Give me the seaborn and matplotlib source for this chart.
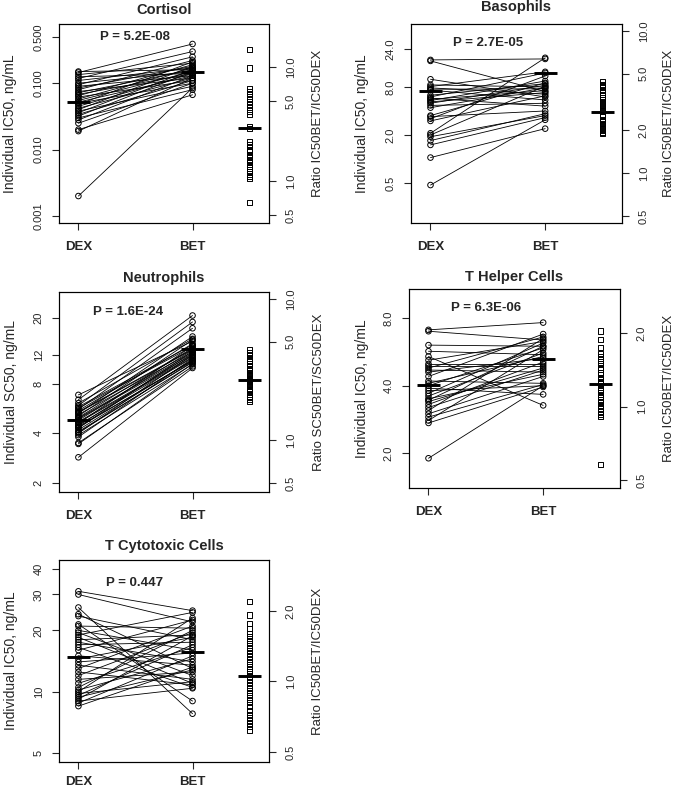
import matplotlib
matplotlib.use("Agg")
import matplotlib.pyplot as plt
import seaborn as sns
import pandas as pd
from matplotlib.ticker import FixedLocator, FixedFormatter, NullLocator

# ---------------- data ----------------
groups = ["DEX", "BET"]

cortisol_dex = [0.150, 0.145, 0.135, 0.125, 0.118, 0.110, 0.100, 0.095, 0.090, 0.085,
                0.080, 0.075, 0.072, 0.068, 0.065, 0.062, 0.058, 0.055, 0.052, 0.050,
                0.048, 0.045, 0.042, 0.040, 0.038, 0.036, 0.034, 0.032, 0.030, 0.028,
                0.025, 0.020, 0.019, 0.002]
cortisol_bet = [0.160, 0.390, 0.200, 0.140, 0.300, 0.170, 0.150, 0.250, 0.130, 0.180,
                0.220, 0.120, 0.160, 0.140, 0.190, 0.110, 0.170, 0.150, 0.130, 0.100,
                0.210, 0.140, 0.120, 0.180, 0.090, 0.160, 0.110, 0.150, 0.080, 0.130,
                0.100, 0.067, 0.120, 0.085]
cortisol_ratio = [14.2, 9.8, 6.5, 6.1, 5.7, 5.3, 5.0, 4.7, 4.4, 4.1, 3.8, 3.0, 2.9, 2.2,
                  2.1, 2.0, 1.9, 1.85, 1.8, 1.7, 1.65, 1.6, 1.5, 1.45, 1.4, 1.35, 1.3,
                  1.25, 1.2, 1.15, 1.1, 1.06, 0.65]
cortisol_means = [0.052, 0.15]
cortisol_ratio_mean = 2.9

baso_dex = [17.5, 17.0, 10.0, 8.5, 8.1, 7.8, 7.5, 7.3, 6.3, 6.0, 5.8, 5.6, 5.4, 5.2,
            5.0, 4.7, 4.4, 3.5, 3.4, 3.2, 3.0, 2.1, 2.0, 1.9, 1.7, 1.5, 1.04, 0.47]
baso_bet = [18.0, 7.0, 6.0, 8.0, 12.4, 6.5, 7.6, 5.5, 8.8, 12.0, 4.6, 7.2, 9.5, 6.8,
            8.4, 5.0, 7.8, 9.0, 4.0, 11.0, 6.2, 18.6, 8.2, 3.5, 3.7, 3.3, 2.4, 3.1]
baso_ratio = [4.4, 4.2, 4.1, 4.0, 3.8, 3.6, 3.4, 3.3, 3.2, 3.1, 3.0, 2.9, 2.8, 2.75,
              2.7, 2.6, 2.55, 2.5, 2.4, 2.35, 2.3, 2.25, 2.2, 2.1, 2.05, 2.0, 1.95, 1.9]
baso_means = [7.1, 11.9]
baso_ratio_mean = 2.7

neut_dex = [6.85, 6.4, 6.1, 5.9, 5.8, 5.7, 5.6, 5.5, 5.4, 5.35, 5.3, 5.2, 5.1, 5.0,
            4.95, 4.9, 4.8, 4.7, 4.65, 4.6, 4.5, 4.45, 4.4, 4.35, 4.3, 4.2, 4.1, 4.05,
            4.0, 3.9, 3.8, 3.5, 3.45, 2.86]
neut_bet = [14.5, 20.8, 15.0, 19.0, 13.8, 13.5, 17.4, 14.0, 13.0, 12.9, 15.5, 12.5,
            14.8, 13.2, 12.3, 12.0, 12.8, 11.8, 11.6, 13.6, 11.5, 12.2, 11.0, 11.1,
            12.6, 11.2, 10.8, 10.9, 12.0, 10.5, 11.4, 10.2, 10.6, 9.98]
neut_ratio = [4.4, 4.2, 4.0, 3.8, 3.7, 3.6, 3.5, 3.4, 3.3, 3.2, 3.15, 3.1, 3.0, 2.95,
              2.9, 2.85, 2.8, 2.75, 2.7, 2.65, 2.6, 2.55, 2.5, 2.45, 2.4, 2.35, 2.3,
              2.25, 2.2, 2.1, 2.05, 2.0, 1.95, 1.89]
neut_means = [4.8, 13.1]
neut_ratio_mean = 2.69

th_dex = [7.1, 7.0, 6.07, 5.7, 5.4, 5.2, 5.0, 4.9, 4.8, 4.7, 4.6, 4.4, 4.2, 4.1, 4.0,
          3.9, 3.8, 3.7, 3.6, 3.5, 3.45, 3.4, 3.3, 3.2, 3.1, 3.0, 2.9, 2.8, 2.73, 1.9]
th_bet = [7.65, 6.4, 6.0, 5.5, 3.27, 6.3, 5.0, 4.9, 6.6, 4.6, 5.3, 6.8, 4.1, 5.4, 5.9,
          3.66, 4.0, 6.2, 5.6, 4.5, 6.0, 4.8, 5.1, 4.7, 6.5, 4.4, 4.05, 5.8, 3.95, 4.0]
th_ratio = [2.04, 1.88, 1.75, 1.65, 1.6, 1.55, 1.5, 1.45, 1.42, 1.38, 1.35, 1.32, 1.3,
            1.27, 1.24, 1.22, 1.2, 1.17, 1.14, 1.12, 1.1, 1.07, 1.05, 1.04, 1.01, 0.98,
            0.95, 0.93, 0.91, 0.58]
th_means = [4.05, 5.25]
th_ratio_mean = 1.24

tc_dex = [31.1, 30.0, 25.9, 24.0, 23.5, 21.4, 21.0, 20.0, 19.5, 19.0, 18.5, 18.0, 17.5,
          17.0, 16.5, 16.0, 15.0, 14.5, 14.0, 13.5, 13.0, 12.5, 12.0, 11.5, 11.0, 10.5,
          10.2, 10.0, 9.8, 9.6, 9.4, 9.2, 9.0, 8.8, 8.5]
tc_bet = [25.0, 22.0, 7.8, 13.0, 18.0, 9.0, 20.5, 16.0, 12.0, 24.5, 11.0, 19.0, 14.0,
          17.5, 10.5, 22.5, 13.5, 18.5, 15.5, 11.5, 21.0, 10.8, 19.5, 12.5, 16.5, 20.0,
          14.5, 23.0, 11.2, 17.0, 12.8, 18.8, 10.4, 15.0, 13.2]
tc_ratio = [2.19, 1.92, 1.77, 1.68, 1.6, 1.55, 1.5, 1.45, 1.4, 1.36, 1.32, 1.28, 1.24,
            1.2, 1.16, 1.12, 1.08, 1.05, 1.02, 0.99, 0.96, 0.93, 0.9, 0.87, 0.84, 0.81,
            0.78, 0.75, 0.72, 0.7, 0.68, 0.66, 0.64, 0.62]
tc_means = [14.8, 15.7]
tc_ratio_mean = 1.05

panels = [
    dict(title="Cortisol", dex=cortisol_dex, bet=cortisol_bet, ratio=cortisol_ratio,
         means=cortisol_means, rmean=cortisol_ratio_mean, p="P = 5.2E-08",
         ylab="Individual IC50, ng/mL", rlab="Ratio IC50BET/IC50DEX",
         lticks=[0.001, 0.010, 0.100, 0.500], llabels=["0.001", "0.010", "0.100", "0.500"],
         rticks=[0.5, 1.0, 5.0, 10.0], rlabels=["0.5", "1.0", "5.0", "10.0"],
         ylim=(0.000785, 0.78), rlim=(0.428, 23.8), tpad=7, xpad=8,
         rect=[59, 24, 269, 223], pxy=(0.36, 0.935), lx=-0.20, rx=1.205),
    dict(title="Basophils", dex=baso_dex, bet=baso_bet, ratio=baso_ratio,
         means=baso_means, rmean=baso_ratio_mean, p="P = 2.7E-05",
         ylab="Individual IC50, ng/mL", rlab="Ratio IC50BET/IC50DEX",
         lticks=[0.5, 2.0, 8.0, 24.0], llabels=["0.5", "2.0", "8.0", "24.0"],
         rticks=[0.5, 1.0, 2.0, 5.0, 10.0], rlabels=["0.5", "1.0", "2.0", "5.0", "10.0"],
         ylim=(0.157, 49.4), rlim=(0.447, 11.2), tpad=9, xpad=8,
         rect=[411, 24, 622, 223], pxy=(0.365, 0.905), lx=-0.199, rx=1.193),
    dict(title="Neutrophils", dex=neut_dex, bet=neut_bet, ratio=neut_ratio,
         means=neut_means, rmean=neut_ratio_mean, p="P = 1.6E-24",
         ylab="Individual SC50, ng/mL", rlab="Ratio SC50BET/SC50DEX",
         lticks=[2, 4, 8, 12, 20], llabels=["2", "4", "8", "12", "20"],
         rticks=[0.5, 1.0, 5.0, 10.0], rlabels=["0.5", "1.0", "5.0", "10.0"],
         ylim=(1.76, 28.9), rlim=(0.432, 11.2), tpad=7, xpad=8,
         rect=[59, 292, 269, 492], pxy=(0.33, 0.90), lx=-0.195, rx=1.21),
    dict(title="T Helper Cells", dex=th_dex, bet=th_bet, ratio=th_ratio,
         means=th_means, rmean=th_ratio_mean, p="P = 6.3E-06",
         ylab="Individual IC50, ng/mL", rlab="Ratio IC50BET/IC50DEX",
         lticks=[2.0, 4.0, 8.0], llabels=["2.0", "4.0", "8.0"],
         rticks=[0.5, 1.0, 2.0], rlabels=["0.5", "1.0", "2.0"],
         ylim=(1.40, 10.8), rlim=(0.464, 3.03), tpad=6, xpad=8,
         rect=[409, 289, 620, 488], pxy=(0.365, 0.905), lx=-0.19, rx=1.205),
    dict(title="T Cytotoxic Cells", dex=tc_dex, bet=tc_bet, ratio=tc_ratio,
         means=tc_means, rmean=tc_ratio_mean, p="P = 0.447",
         ylab="Individual IC50, ng/mL", rlab="Ratio IC50BET/IC50DEX",
         lticks=[5, 10, 20, 30, 40], llabels=["5", "10", "20", "30", "40"],
         rticks=[0.5, 1.0, 2.0], rlabels=["0.5", "1.0", "2.0"],
         ylim=(4.52, 44.3), rlim=(0.453, 3.3), tpad=7, xpad=5,
         rect=[59, 560, 269, 762], pxy=(0.36, 0.886), lx=-0.195, rx=1.205),
]

# ---------------- style ----------------
sns.set_style("white")
plt.rcParams["font.family"] = ["Liberation Sans", "DejaVu Sans"]
plt.rcParams["axes.linewidth"] = 0.8
plt.rcParams["axes.edgecolor"] = "black"

W, H = 676, 787
fig = plt.figure(figsize=(W / 100, H / 100), dpi=100)

XPOS = {"DEX": 1.0, "BET": 2.0}
RATIO_X = 2.5
HALF = 0.1

for pnl in panels:
    x0, y0, x1, y1 = pnl["rect"]
    ax = fig.add_axes([x0 / W, 1 - y1 / H, (x1 - x0) / W, (y1 - y0) / H])
    ax.set_yscale("log")
    n = len(pnl["dex"])
    df = pd.DataFrame({
        "subject": list(range(n)) * 2,
        "group": ["DEX"] * n + ["BET"] * n,
        "value": list(pnl["dex"]) + list(pnl["bet"]),
    })
    df["pos"] = df["group"].map(XPOS)

    sns.lineplot(data=df, x="pos", y="value", units="subject", estimator=None,
                 color="black", linewidth=0.6, ax=ax, legend=False)
    sns.scatterplot(data=df, x="pos", y="value", marker="o", s=16, color="black",
                    facecolors="none", edgecolor="black", linewidth=0.7, ax=ax,
                    legend=False, zorder=3)
    for g, m in zip(groups, pnl["means"]):
        ax.hlines(m, XPOS[g] - HALF, XPOS[g] + HALF, color="black", linewidth=2.1, zorder=4)

    ax.set_xlim(0.83, 2.67)
    ax.set_ylim(*pnl["ylim"])
    ax.set_xticks([1, 2])
    ax.set_xticklabels(groups, fontsize=9.5, fontweight="bold")
    ax.yaxis.set_major_locator(FixedLocator(pnl["lticks"]))
    ax.yaxis.set_major_formatter(FixedFormatter(pnl["llabels"]))
    ax.yaxis.set_minor_locator(NullLocator())
    ax.tick_params(axis="x", direction="out", length=5, width=0.8, pad=pnl["xpad"],
                   bottom=True)
    ax.tick_params(axis="y", direction="out", length=5, width=0.8, pad=6, left=True,
                   labelsize=8)
    for lab in ax.get_yticklabels():
        lab.set_rotation(90)
        lab.set_va("center")
    ax.set_xlabel("")
    ax.set_ylabel(pnl["ylab"], fontsize=10)
    ax.yaxis.set_label_coords(pnl["lx"], 0.5)
    ax.set_title(pnl["title"], fontsize=10.5, fontweight="bold", pad=pnl["tpad"])
    ax.text(pnl["pxy"][0], pnl["pxy"][1], pnl["p"], transform=ax.transAxes,
            ha="center", va="center", fontsize=9.5, fontweight="bold")

    ax2 = ax.twinx()
    ax2.set_yscale("log")
    rdf = pd.DataFrame({"pos": [RATIO_X] * len(pnl["ratio"]), "ratio": pnl["ratio"]})
    sns.scatterplot(data=rdf, x="pos", y="ratio", marker="s", s=14, color="black",
                    facecolors="none", edgecolor="black", linewidth=0.7, ax=ax2,
                    legend=False, zorder=3)
    ax2.hlines(pnl["rmean"], RATIO_X - HALF, RATIO_X + HALF, color="black",
               linewidth=2.1, zorder=4)
    ax2.set_ylim(*pnl["rlim"])
    ax2.set_xlim(0.83, 2.67)
    ax2.yaxis.set_major_locator(FixedLocator(pnl["rticks"]))
    ax2.yaxis.set_major_formatter(FixedFormatter(pnl["rlabels"]))
    ax2.yaxis.set_minor_locator(NullLocator())
    ax2.tick_params(axis="y", direction="out", length=5, width=0.8, pad=7, right=True,
                    labelsize=8)
    for lab in ax2.get_yticklabels():
        lab.set_rotation(90)
        lab.set_va("center")
    ax2.set_ylabel(pnl["rlab"], fontsize=9.5, rotation=90)
    ax2.yaxis.set_label_coords(pnl["rx"], 0.5)
    for sp in ax.spines.values():
        sp.set_linewidth(0.8)
        sp.set_color("black")

fig.savefig("out.png", dpi=100)
